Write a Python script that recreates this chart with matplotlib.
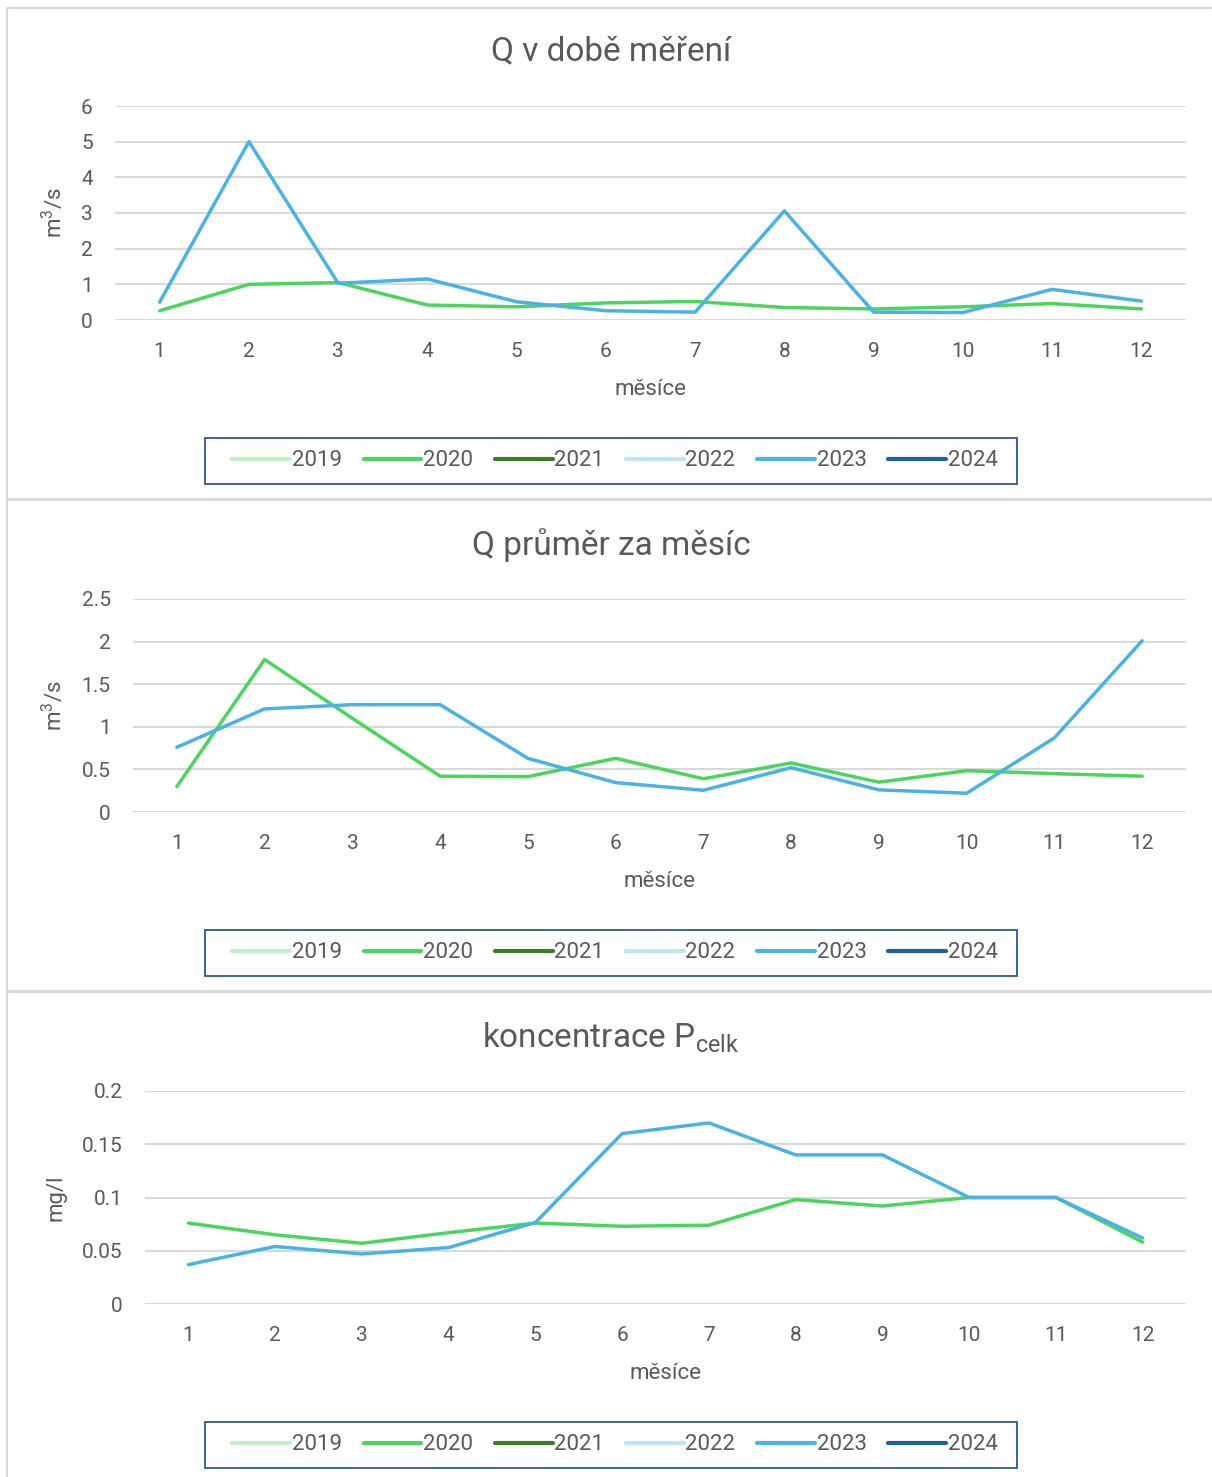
import matplotlib
matplotlib.use("Agg")
import matplotlib.pyplot as plt
from matplotlib.patches import Rectangle
import numpy as np

plt.rcParams['font.family'] = ['Roboto', 'DejaVu Sans']

months = list(range(1, 13))
month_labels = [str(m) for m in months]
years = ['2019', '2020', '2021', '2022', '2023', '2024']
colors = ['#C1EFC8', '#4CD55E', '#3A7D22', '#C1E4F5', '#4AB3E3', '#215F9A']

# Panel 1: Q v době měření (m3/s)
q_mereni_2020 = [0.26, 1.0, 1.05, 0.42, 0.37, 0.48, 0.52, 0.35, 0.31, 0.37, 0.46, 0.31]
q_mereni_2023 = [0.50, 5.0, 1.03, 1.15, 0.51, 0.26, 0.22, 3.06, 0.22, 0.21, 0.86, 0.53]

# Panel 2: Q průměr za měsíc (m3/s)
q_prumer_2020 = [0.30, 1.79, 1.10, 0.42, 0.415, 0.63, 0.39, 0.575, 0.35, 0.485, 0.45, 0.42]
q_prumer_2023 = [0.76, 1.21, 1.26, 1.26, 0.63, 0.345, 0.255, 0.52, 0.26, 0.22, 0.87, 2.01]

# Panel 3: koncentrace P celk (mg/l)
p_celk_2020 = [0.076, 0.065, 0.057, 0.067, 0.076, 0.073, 0.074, 0.098, 0.092, 0.100, 0.100, 0.058]
p_celk_2023 = [0.037, 0.054, 0.047, 0.053, 0.0765, 0.160, 0.170, 0.140, 0.140, 0.100, 0.100, 0.062]

yticks1 = [0, 1, 2, 3, 4, 5, 6]
ylabels1 = ['0', '1', '2', '3', '4', '5', '6']
yticks2 = [0, 0.5, 1, 1.5, 2, 2.5]
ylabels2 = ['0', '0.5', '1', '1.5', '2', '2.5']
yticks3 = [0, 0.05, 0.1, 0.15, 0.2]
ylabels3 = ['0', '0.05', '0.1', '0.15', '0.2']

W, H = 1212, 1477
fig = plt.figure(figsize=(W / 100, H / 100), dpi=100)

TXT = '#595959'
GRID = '#D9D9D9'

def px_axes(left, top, right, bottom):
    return fig.add_axes([left / W, 1 - bottom / H, (right - left) / W, (bottom - top) / H])

panels = [
    dict(box=(7, 8, 1213, 499), ax=(115, 106, 1186, 320), title='Q v době měření',
         ylabel='m$^{\\mathregular{3}}$/s', yt=yticks1, yl=ylabels1,
         d20=q_mereni_2020, d23=q_mereni_2023, ty=51, leg=(205, 438, 1017, 484)),
    dict(box=(7, 500, 1213, 991), ax=(133, 599, 1186, 812), title='Q průměr za měsíc',
         ylabel='m$^{\\mathregular{3}}$/s', yt=yticks2, yl=ylabels2,
         d20=q_prumer_2020, d23=q_prumer_2023, ty=545, leg=(205, 930, 1017, 976)),
    dict(box=(7, 992, 1213, 1478), ax=(145, 1091, 1186, 1304),
         title='koncentrace P$_{\\mathregular{celk}}$',
         ylabel='mg/l', yt=yticks3, yl=ylabels3,
         d20=p_celk_2020, d23=p_celk_2023, ty=1038, leg=(205, 1422, 1017, 1468)),
]

for p in panels:
    bx0, by0, bx1, by1 = p['box']
    fig.add_artist(Rectangle((bx0 / W, 1 - by1 / H), (bx1 - bx0) / W, (by1 - by0) / H,
                             transform=fig.transFigure, fill=False, edgecolor=GRID, lw=1.5))
    ax = px_axes(*p['ax'])
    series = {y: [np.nan] * 12 for y in years}
    series['2020'] = p['d20']
    series['2023'] = p['d23']
    handles = []
    for y, c in zip(years, colors):
        h, = ax.plot(months, series[y], color=c, lw=2.5, solid_capstyle='round',
                     solid_joinstyle='round', label=y, zorder=3)
        handles.append(h)
    ax.set_xlim(0.5, 12.5)
    ax.set_ylim(p['yt'][0], p['yt'][-1])
    ax.set_yticks(p['yt'])
    ax.set_yticklabels(p['yl'])
    ax.set_xticks(months)
    ax.set_xticklabels(month_labels)
    ax.tick_params(axis='both', length=0, labelsize=15, labelcolor=TXT)
    ax.tick_params(axis='y', pad=16)
    ax.tick_params(axis='x', pad=16)
    for s in ax.spines.values():
        s.set_visible(False)
    ax.grid(axis='y', color=GRID, lw=1.5, zorder=0)
    ax.set_axisbelow(True)
    ax.set_xlabel('měsíce', fontsize=16, color=TXT, labelpad=13)
    ax.set_ylabel(p['ylabel'], fontsize=16, color=TXT)
    ax.yaxis.set_label_coords((67 - p['ax'][0]) / (p['ax'][2] - p['ax'][0]), 0.5)
    fig.text(611 / W, 1 - p['ty'] / H, p['title'], ha='center', va='center',
             fontsize=24, color=TXT)
    lx0, ly0, lx1, ly1 = p['leg']
    fig.add_artist(Rectangle((lx0 / W, 1 - ly1 / H), (lx1 - lx0) / W, (ly1 - ly0) / H,
                             transform=fig.transFigure, fill=False,
                             edgecolor='#2F5597', lw=1.3))
    leg = fig.legend(handles, years, loc='center', ncol=6,
                     bbox_to_anchor=(615 / W, 1 - (ly0 + ly1) / 2 / H),
                     fontsize=16, frameon=False, handlelength=2.6,
                     handletextpad=0.08, columnspacing=0.97, borderpad=0.3)
    for t in leg.get_texts():
        t.set_color(TXT)
    for lh in leg.get_lines():
        lh.set_linewidth(3)

fig.savefig('out.png', dpi=100)
